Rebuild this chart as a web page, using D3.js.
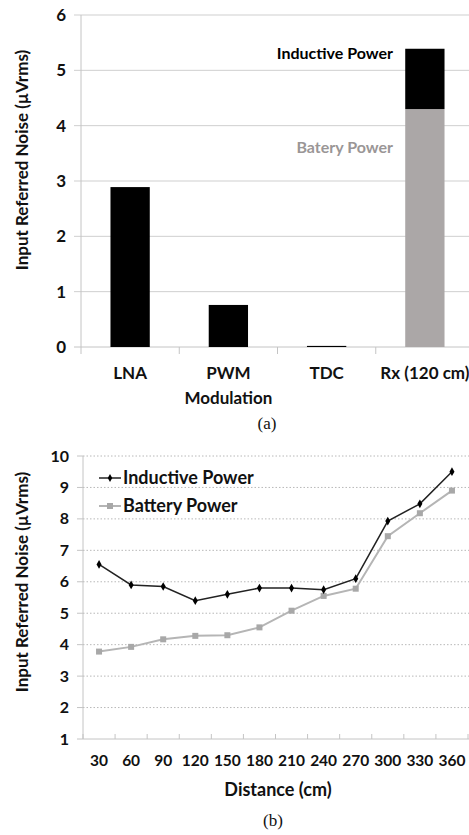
<!DOCTYPE html>
<html><head><meta charset="utf-8">
<script src="https://cdn.jsdelivr.net/npm/d3@7"></script>
<style>body{margin:0;background:#fff}svg{display:block}</style>
</head><body>
<svg id="c" width="469" height="835"></svg>
<script>
// ---- Data (a)
const categoriesA = ["LNA", "PWM|Modulation", "TDC", "Rx (120 cm)"];
const blockNoise = [2.89, 0.76, 0.02, null];
const rxBatteryNoise = 4.30;
const rxInductiveNoise = 5.39;
const ticksA = [0, 1, 2, 3, 4, 5, 6];
// ---- Data (b)
const distances = [30, 60, 90, 120, 150, 180, 210, 240, 270, 300, 330, 360];
const inductivePower = [6.55, 5.9, 5.85, 5.4, 5.6, 5.8, 5.8, 5.75, 6.1, 7.93, 8.48, 9.5];
const batteryPower = [3.78, 3.93, 4.17, 4.28, 4.3, 4.55, 5.08, 5.55, 5.78, 7.45, 8.18, 8.9];
const ticksB = [1, 2, 3, 4, 5, 6, 7, 8, 9, 10];

const svg = d3.select("#c");
const FONT = "Lato, 'Open Sans', sans-serif";
const gridCol = "#cfcfcf";

// ================= Chart (a)
const xA = d3.scaleBand().domain(categoriesA).range([81, 474]).paddingInner(0.6).paddingOuter(0.3);
const yA = d3.scaleLinear().domain([0, 6]).range([347, 15]);
const gA = svg.append("g");

gA.selectAll("line.grid").data(ticksA).join("line")
  .attr("x1", 74).attr("x2", 474)
  .attr("y1", d => yA(d)).attr("y2", d => yA(d))
  .attr("stroke", d => d === 0 ? "#c4c4c4" : gridCol).attr("stroke-width", 1);
gA.append("line").attr("x1", 81).attr("x2", 81).attr("y1", yA(6)).attr("y2", yA(0))
  .attr("stroke", "#c4c4c4");
const stepA = xA.step();
gA.selectAll("line.sep").data(d3.range(categoriesA.length + 1)).join("line")
  .attr("x1", i => xA.range()[0] + i * stepA).attr("x2", i => xA.range()[0] + i * stepA)
  .attr("y1", yA(0)).attr("y2", yA(0) + 7).attr("stroke", "#c4c4c4");

gA.selectAll("text.yt").data(ticksA).join("text")
  .attr("x", 66).attr("y", d => yA(d)).attr("dy", "0.35em")
  .attr("text-anchor", "end").attr("font-family", FONT).attr("font-weight", "bold")
  .attr("font-size", 17).attr("fill", "#111").text(d => d);

const singles = categoriesA.map((c, i) => ({c, v: blockNoise[i]})).filter(d => d.v !== null);
gA.selectAll("rect.bar").data(singles).join("rect")
  .attr("x", d => xA(d.c)).attr("width", xA.bandwidth())
  .attr("y", d => yA(d.v)).attr("height", d => yA(0) - yA(d.v)).attr("fill", "#000");
const rxCat = categoriesA[3];
gA.append("rect").attr("x", xA(rxCat)).attr("width", xA.bandwidth())
  .attr("y", yA(rxBatteryNoise)).attr("height", yA(0) - yA(rxBatteryNoise)).attr("fill", "#aba7a7");
gA.append("rect").attr("x", xA(rxCat)).attr("width", xA.bandwidth())
  .attr("y", yA(rxInductiveNoise)).attr("height", yA(rxBatteryNoise) - yA(rxInductiveNoise)).attr("fill", "#000");

gA.append("text").attr("x", 393).attr("y", 53).attr("dy", "0.35em").attr("text-anchor", "end")
  .attr("font-family", FONT).attr("font-weight", "bold").attr("font-size", 16).attr("fill", "#000")
  .text("Inductive Power");
gA.append("text").attr("x", 393).attr("y", 147).attr("dy", "0.35em").attr("text-anchor", "end")
  .attr("font-family", FONT).attr("font-weight", "bold").attr("font-size", 16).attr("fill", "#9a9696")
  .text("Batery Power");

categoriesA.forEach(c => {
  const lines = c.split("|");
  const t = gA.append("text").attr("x", xA(c) + xA.bandwidth() / 2).attr("y", 379)
    .attr("text-anchor", "middle").attr("font-family", FONT).attr("font-weight", "bold")
    .attr("font-size", 17).attr("fill", "#111");
  lines.forEach((l, i) => t.append("tspan").attr("x", xA(c) + xA.bandwidth() / 2).attr("dy", i ? 25 : 0).text(l));
});
gA.append("text").attr("x", 22).attr("y", 160).attr("dy", "0.35em")
  .attr("transform", "rotate(-90,22,160)").attr("text-anchor", "middle")
  .attr("font-family", FONT).attr("font-weight", "bold").attr("font-size", 17).attr("fill", "#111")
  .text("Input Referred Noise (µVrms)");
svg.append("text").attr("x", 267).attr("y", 429).attr("text-anchor", "middle")
  .attr("font-family", "'Liberation Serif', serif").attr("font-size", 17).attr("fill", "#111").text("(a)");

// ================= Chart (b)
const xB = d3.scaleBand().domain(distances).range([83, 468]).padding(0);
const yB = d3.scaleLinear().domain([1, 10]).range([739, 456]);
const gB = svg.append("g");
const cx = d => xB(d) + xB.bandwidth() / 2;

gB.selectAll("line.grid").data(ticksB.filter(d => d > 1)).join("line")
  .attr("x1", 83).attr("x2", 469).attr("y1", d => yB(d)).attr("y2", d => yB(d))
  .attr("stroke", "#b8b8b8").attr("stroke-dasharray", "1.5,2");
gB.append("line").attr("x1", 83).attr("x2", 83).attr("y1", yB(10)).attr("y2", yB(1)).attr("stroke", "#c4c4c4");
gB.append("line").attr("x1", 83).attr("x2", 469).attr("y1", yB(1)).attr("y2", yB(1)).attr("stroke", "#c4c4c4");
gB.selectAll("line.yt").data(ticksB).join("line")
  .attr("x1", 77).attr("x2", 83).attr("y1", d => yB(d)).attr("y2", d => yB(d)).attr("stroke", "#c4c4c4");
gB.selectAll("line.xt").data(d3.range(distances.length + 1)).join("line")
  .attr("x1", i => 83 + i * xB.step()).attr("x2", i => 83 + i * xB.step())
  .attr("y1", yB(1) - 5).attr("y2", yB(1)).attr("stroke", "#c4c4c4");

gB.selectAll("text.yt").data(ticksB).join("text")
  .attr("x", 69).attr("y", d => yB(d)).attr("dy", "0.35em").attr("text-anchor", "end")
  .attr("font-family", FONT).attr("font-weight", "bold").attr("font-size", 16).attr("fill", "#111").text(d => d);
gB.selectAll("text.xt").data(distances).join("text")
  .attr("x", d => cx(d)).attr("y", 761).attr("dy", "0.35em").attr("text-anchor", "middle")
  .attr("font-family", FONT).attr("font-weight", "bold").attr("font-size", 15.5).attr("fill", "#111").text(d => d);
gB.append("text").attr("x", 278).attr("y", 790).attr("dy", "0.35em").attr("text-anchor", "middle")
  .attr("font-family", FONT).attr("font-weight", "bold").attr("font-size", 18).attr("fill", "#111").text("Distance (cm)");
gB.append("text").attr("x", 22).attr("y", 582).attr("dy", "0.35em")
  .attr("transform", "rotate(-90,22,582)").attr("text-anchor", "middle")
  .attr("font-family", FONT).attr("font-weight", "bold").attr("font-size", 17).attr("fill", "#111")
  .text("Input Referred Noise (µVrms)");
svg.append("text").attr("x", 273).attr("y", 826).attr("text-anchor", "middle")
  .attr("font-family", "'Liberation Serif', serif").attr("font-size", 17).attr("fill", "#111").text("(b)");

const line = d3.line().x(d => cx(d[0])).y(d => yB(d[1]));
const bData = distances.map((d, i) => [d, batteryPower[i]]);
const iData = distances.map((d, i) => [d, inductivePower[i]]);
gB.append("path").attr("d", line(bData)).attr("fill", "none").attr("stroke", "#b5b5b5").attr("stroke-width", 2);
gB.selectAll("rect.bm").data(bData).join("rect")
  .attr("x", d => cx(d[0]) - 3).attr("y", d => yB(d[1]) - 3).attr("width", 6).attr("height", 6).attr("fill", "#a8a8a8");
gB.append("path").attr("d", line(iData)).attr("fill", "none").attr("stroke", "#222").attr("stroke-width", 1.5);
gB.selectAll("path.im").data(iData).join("path")
  .attr("transform", d => `translate(${cx(d[0])},${yB(d[1])})`)
  .attr("d", d3.symbol(d3.symbolDiamond, 22)).attr("fill", "#000");

const lg = gB.append("g");
lg.append("line").attr("x1", 99).attr("x2", 121).attr("y1", 478).attr("y2", 478).attr("stroke", "#222").attr("stroke-width", 1.5);
lg.append("path").attr("transform", "translate(110,478)").attr("d", d3.symbol(d3.symbolDiamond, 18)).attr("fill", "#000");
lg.append("text").attr("x", 123).attr("y", 478).attr("dy", "0.35em").attr("font-family", FONT).attr("font-weight", "bold")
  .attr("font-size", 18).attr("fill", "#111").text("Inductive Power");
lg.append("line").attr("x1", 99).attr("x2", 121).attr("y1", 506).attr("y2", 506).attr("stroke", "#b5b5b5").attr("stroke-width", 2);
lg.append("rect").attr("x", 107).attr("y", 503).attr("width", 6).attr("height", 6).attr("fill", "#a8a8a8");
lg.append("text").attr("x", 123).attr("y", 506).attr("dy", "0.35em").attr("font-family", FONT).attr("font-weight", "bold")
  .attr("font-size", 18).attr("fill", "#111").text("Battery Power");
</script>
</body></html>
